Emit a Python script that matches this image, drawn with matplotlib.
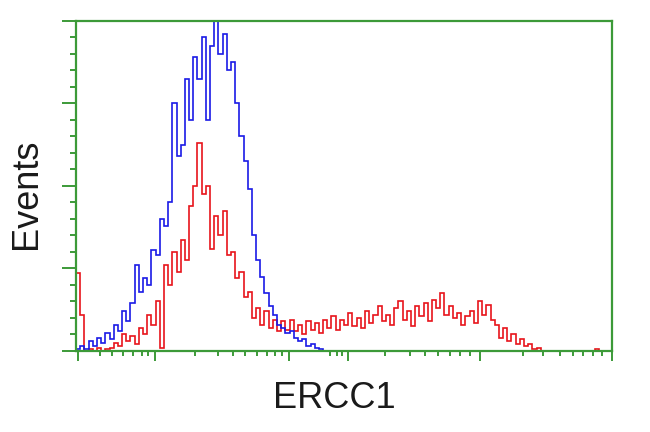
import numpy as np
import matplotlib
matplotlib.use("Agg")
import matplotlib.pyplot as plt

# histogram counts, 128 bins of 8 channels each (0..1024)
blue_counts = [
    1, 3, 1, 6, 3, 8, 5, 11, 7, 16, 12, 24, 18, 29, 52, 36,
    44, 40, 61, 58, 80, 76, 90, 150, 118, 125, 165, 140, 178, 165, 190, 140,
    185, 200, 180, 192, 170, 175, 150, 130, 115, 98, 70, 55, 45, 35, 27, 22,
    16, 14, 11, 12, 8, 6, 7, 3, 4, 2, 1, 0, 0, 0, 0, 0,
    0, 0, 0, 0, 0, 0, 0, 0, 0, 0, 0, 0, 0, 0, 0, 0,
    0, 0, 0, 0, 0, 0, 0, 0, 0, 0, 0, 0, 0, 0, 0, 0,
    0, 0, 0, 0, 0, 0, 0, 0, 0, 0, 0, 0, 0, 0, 0, 0,
    0, 0, 0, 0, 0, 0, 0, 0, 0, 0, 0, 0, 0, 0, 0, 0,
]
red_counts = [
    47, 22, 0, 1, 0, 2, 0, 1, 2, 5, 3, 10, 6, 9, 4, 14,
    10, 22, 16, 30, 2, 52, 40, 60, 48, 67, 55, 88, 100, 126, 95, 100,
    62, 82, 70, 85, 58, 60, 44, 48, 33, 36, 20, 26, 16, 24, 14, 19,
    12, 18, 13, 19, 12, 16, 10, 18, 13, 17, 11, 19, 14, 21, 13, 19,
    16, 23, 15, 20, 14, 24, 17, 22, 27, 18, 22, 16, 26, 30, 19, 24,
    15, 27, 21, 29, 18, 31, 26, 35, 22, 27, 20, 23, 16, 21, 24, 17,
    30, 22, 28, 19, 16, 8, 14, 6, 10, 4, 7, 3, 4, 1, 2, 0,
    0, 0, 0, 0, 0, 0, 0, 0, 0, 0, 0, 0, 1, 0, 0, 0,
]

# axis ticks (channel units)
x_major = [4, 151, 407, 520, 772, 1024]
x_minor = [46, 69, 90, 109, 126, 138, 227, 271, 300, 323, 346, 365, 380, 394,
           485, 499, 508, 590, 638, 667, 692, 714, 734, 753,
           854, 892, 925, 949, 968, 987, 1005]

edges = np.arange(0, 1025, 8)
green = "#3c9a38"

fig = plt.figure(figsize=(6.5, 4.32), dpi=100)
ax = fig.add_axes([0.117, 0.1875, 0.8245, 0.7639])

ax.stairs(red_counts, edges, color="#e8141b", lw=1.2, baseline=0)
ax.stairs(blue_counts, edges, color="#1a1ae6", lw=1.2, baseline=0)

ax.set_xlim(0, 1024)
ax.set_ylim(0, 200)

for s in ax.spines.values():
    s.set_color(green)
    s.set_linewidth(1.6)

ax.set_xticks(x_major)
ax.set_xticks(x_minor, minor=True)
ax.set_yticks(np.arange(0, 201, 50))
ax.set_yticks(np.arange(0, 201, 10), minor=True)
ax.tick_params(which="both", color=green, width=1.4, direction="out",
               labelbottom=False, labelleft=False)
ax.tick_params(axis="x", which="major", length=7)
ax.tick_params(axis="x", which="minor", length=3.5)
ax.tick_params(axis="y", which="major", length=10)
ax.tick_params(axis="y", which="minor", length=4.5)

fig.text(0.514, 0.0556, "ERCC1", ha="center", va="baseline",
         fontsize=26, family="Liberation Sans", color="#1a1a1a")
fig.text(0.041, 0.552, "Events", ha="center", va="center", rotation=90,
         fontsize=26, family="Liberation Sans", color="#1a1a1a")

fig.savefig("out.png", dpi=100)
